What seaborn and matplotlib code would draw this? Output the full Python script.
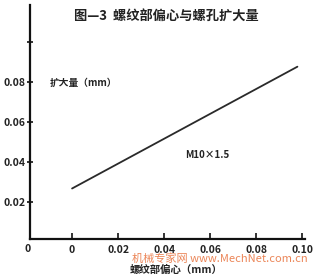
import matplotlib
matplotlib.use("Agg")
import matplotlib.pyplot as plt
import seaborn as sns
import pandas as pd

# data
ecc = [0.0, 0.098]
expand = [0.0266, 0.0876]
xticks = [0.0, 0.02, 0.04, 0.06, 0.08, 0.10]
xticklabels = ["0", "0.02", "0.04", "0.06", "0.08", "0.10"]
yticks = [0.02, 0.04, 0.06, 0.08, 0.10]
yticklabels = ["0.02", "0.04", "0.06", "0.08", ""]

sns.set_style("ticks")
plt.rcParams['font.family'] = ['Noto Sans CJK SC', 'DejaVu Sans']

W, H = 329, 278
fig = plt.figure(figsize=(W/100, H/100), dpi=100)
x0, x1, y0, y1 = 30, 305, 239, 5
ax = fig.add_axes([x0/W, 1-y0/H, (x1-x0)/W, (y0-y1)/H])

df = pd.DataFrame({"ecc": ecc, "expand": expand})
sns.lineplot(data=df, x="ecc", y="expand", ax=ax, color="#2a2a2a", linewidth=1.3)

ax.set_xlim(-0.0183, 0.1013)
ax.set_ylim(0.0013, 0.1185)
ax.set_xticks(xticks)
ax.set_xticklabels(xticklabels, fontsize=7.5, fontweight='bold', color="#222222")
ax.set_yticks(yticks)
ax.set_yticklabels(yticklabels, fontsize=7.5, fontweight='bold', color="#222222")
ax.set_xlabel("")
ax.set_ylabel("")
for s in ["top", "right"]:
    ax.spines[s].set_visible(False)
for s in ["left", "bottom"]:
    ax.spines[s].set_visible(True)
    ax.spines[s].set_color("#111111")
    ax.spines[s].set_linewidth(1.6)
    ax.spines[s].set_zorder(5)
ax.tick_params(axis='x', bottom=True, direction='in', length=4, width=1.2, pad=4,
               colors="#111111", labelcolor="#222222")
ax.tick_params(axis='y', left=True, direction='inout', length=5, width=1.2, pad=1,
               colors="#111111", labelcolor="#222222")

ax.text(-0.0096, 0.0795, "扩大量（mm）", fontsize=7, fontweight='bold',
        color="#222222", ha='left', va='center')
ax.text(0.059, 0.0435, "M10×1.5", fontsize=7, fontweight='bold', color="#222222",
        ha='center', va='center')

fig.text(166/W, 1-16/H, "图—3  螺纹部偏心与螺孔扩大量", fontsize=9.5, fontweight='bold',
         color="#222222", ha='center', va='center')
fig.text(28/W, 1-249/H, "0", fontsize=7.5, fontweight='bold', color="#222222", ha='center', va='center')
fig.text(220/W, 1-259/H, "机械专家网 www.MechNet.com.cn", fontsize=8, color="#e8703a",
         ha='center', va='center', alpha=0.85, family=['Noto Sans CJK SC', 'DejaVu Sans Mono'])
fig.text(176/W, 1-270/H, "螺纹部偏心（mm）", fontsize=7.5, fontweight='bold', color="#222222",
         ha='center', va='center')

fig.savefig("out.png", dpi=100)
